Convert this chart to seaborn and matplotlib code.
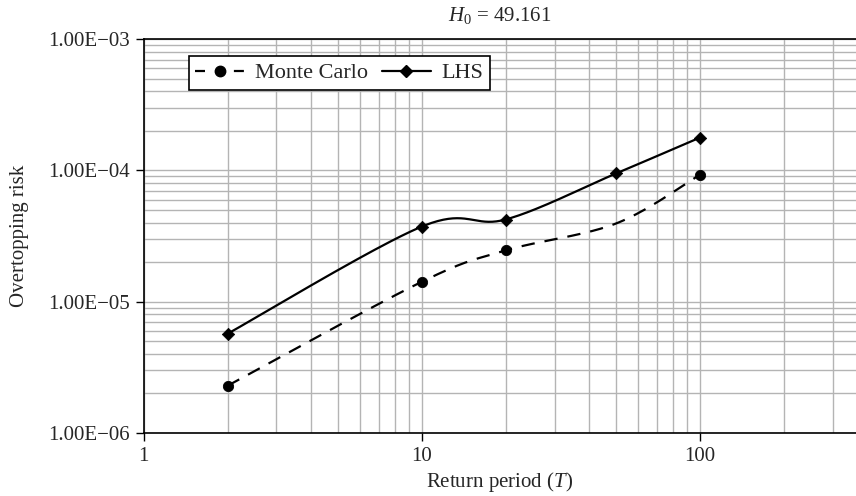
import numpy as np
import pandas as pd
import matplotlib
matplotlib.use("Agg")
import matplotlib.pyplot as plt
from matplotlib.lines import Line2D
from matplotlib.ticker import FuncFormatter, LogLocator, NullFormatter
import seaborn as sns

# ---- data ----
return_period = [2, 10, 20, 50, 100]
monte_carlo = [2.29e-6, 1.42e-5, 2.46e-5, 3.95e-5, 9.3e-5]
mc_marker_idx = [0, 1, 2, 4]          # no marker drawn at T=50
lhs = [5.7e-6, 3.74e-5, 4.23e-5, 9.5e-5, 1.78e-4]
series_names = ["Monte Carlo", "LHS"]
title_text = r"$\mathit{H}_0$ = 49.161"
xlabel_text = "Return period ($\\mathit{T}$)"
ylabel_text = "Overtopping risk"

sns.set_style("white")
plt.rcParams['font.family'] = ['Liberation Serif', 'DejaVu Serif']
plt.rcParams['mathtext.fontset'] = 'custom'
plt.rcParams['mathtext.rm'] = 'Liberation Serif'
plt.rcParams['mathtext.it'] = 'Liberation Serif:italic'


def smooth(xs, ys, n=40):
    """Excel-like Catmull-Rom Bezier smoothing in log-log space."""
    u = np.log10(np.asarray(xs, float))
    v = np.log10(np.asarray(ys, float))
    P = np.column_stack([u, v])
    m = len(P)
    out = []
    t = np.linspace(0, 1, n)
    for i in range(m - 1):
        p0 = P[i - 1] if i > 0 else P[i]
        p1 = P[i]
        p2 = P[i + 1]
        p3 = P[i + 2] if i + 2 < m else P[i + 1]
        c1 = p1 + (p2 - p0) / 6.0
        c2 = p2 - (p3 - p1) / 6.0
        seg = ((1 - t) ** 3)[:, None] * p1 + (3 * (1 - t) ** 2 * t)[:, None] * c1 \
            + (3 * (1 - t) * t ** 2)[:, None] * c2 + (t ** 3)[:, None] * p2
        out.append(seg if i == 0 else seg[1:])
    S = np.vstack(out)
    return 10 ** S[:, 0], 10 ** S[:, 1]


fig = plt.figure(figsize=(8.56, 4.96), dpi=100)
ax = fig.add_axes([0.168, 0.127, 0.832, 0.794])
ax.set_xscale('log')
ax.set_yscale('log')

mx, my = smooth(return_period, monte_carlo)
lx, ly = smooth(return_period, lhs)
df_mc = pd.DataFrame({"x": mx, "y": my})
df_lhs = pd.DataFrame({"x": lx, "y": ly})

sns.lineplot(data=df_mc, x="x", y="y", ax=ax, sort=False, estimator=None,
             color='black', lw=1.6, linestyle=(0, (6, 4.5)), zorder=3)
sns.lineplot(data=df_lhs, x="x", y="y", ax=ax, sort=False, estimator=None,
             color='black', lw=1.6, zorder=3)

mc_df = pd.DataFrame({"x": [return_period[i] for i in mc_marker_idx],
                      "y": [monte_carlo[i] for i in mc_marker_idx]})
lhs_df = pd.DataFrame({"x": return_period, "y": lhs})
sns.scatterplot(data=mc_df, x="x", y="y", ax=ax, marker='o', s=55,
                color='black', edgecolor='black', zorder=4)
sns.scatterplot(data=lhs_df, x="x", y="y", ax=ax, marker='D', s=40,
                color='black', edgecolor='black', zorder=4)

ax.set_xlim(1, 364)
ax.set_ylim(1e-6, 1e-3)

ax.xaxis.set_major_locator(LogLocator(base=10, numticks=10))
ax.xaxis.set_minor_locator(LogLocator(base=10, subs=np.arange(2, 10), numticks=20))
ax.yaxis.set_major_locator(LogLocator(base=10, numticks=10))
ax.yaxis.set_minor_locator(LogLocator(base=10, subs=np.arange(2, 10), numticks=20))
ax.xaxis.set_major_formatter(FuncFormatter(lambda v, p: f"{v:g}"))
ax.xaxis.set_minor_formatter(NullFormatter())
ax.yaxis.set_major_formatter(
    FuncFormatter(lambda v, p: f"{v:.2E}".replace('-', '\u2212')))
ax.yaxis.set_minor_formatter(NullFormatter())

ax.grid(True, which='both', color='#b4b4b4', lw=1.0, zorder=0)
ax.set_axisbelow(True)
ax.tick_params(which='major', direction='out', length=6, width=1, color='black',
               labelsize=15, pad=4, bottom=True, left=True)
ax.tick_params(which='minor', length=0)

for s in ['left', 'bottom', 'top']:
    ax.spines[s].set_color('black')
    ax.spines[s].set_linewidth(1.2)
ax.spines['right'].set_visible(False)

ax.set_xlabel(xlabel_text, fontsize=15, labelpad=3)
ax.set_ylabel(ylabel_text, fontsize=15, labelpad=14)
ax.set_title(title_text, fontsize=15, pad=13)

handles = [
    Line2D([], [], color='black', lw=1.6, linestyle=(0, (4.5, 13)), marker='o', markersize=7.5),
    Line2D([], [], color='black', lw=1.6, marker='D', markersize=6.5),
]
leg = ax.legend(handles, series_names, loc='upper left', bbox_to_anchor=(0.063, 0.957),
                ncol=2, frameon=True, fancybox=False, fontsize=16, handlelength=2.2,
                columnspacing=0.6, handletextpad=0.5, borderpad=0.3, borderaxespad=0)
leg.get_frame().set_edgecolor('black')
leg.get_frame().set_linewidth(1.2)
leg.get_frame().set_alpha(1)

fig.savefig("out.png", dpi=100)
